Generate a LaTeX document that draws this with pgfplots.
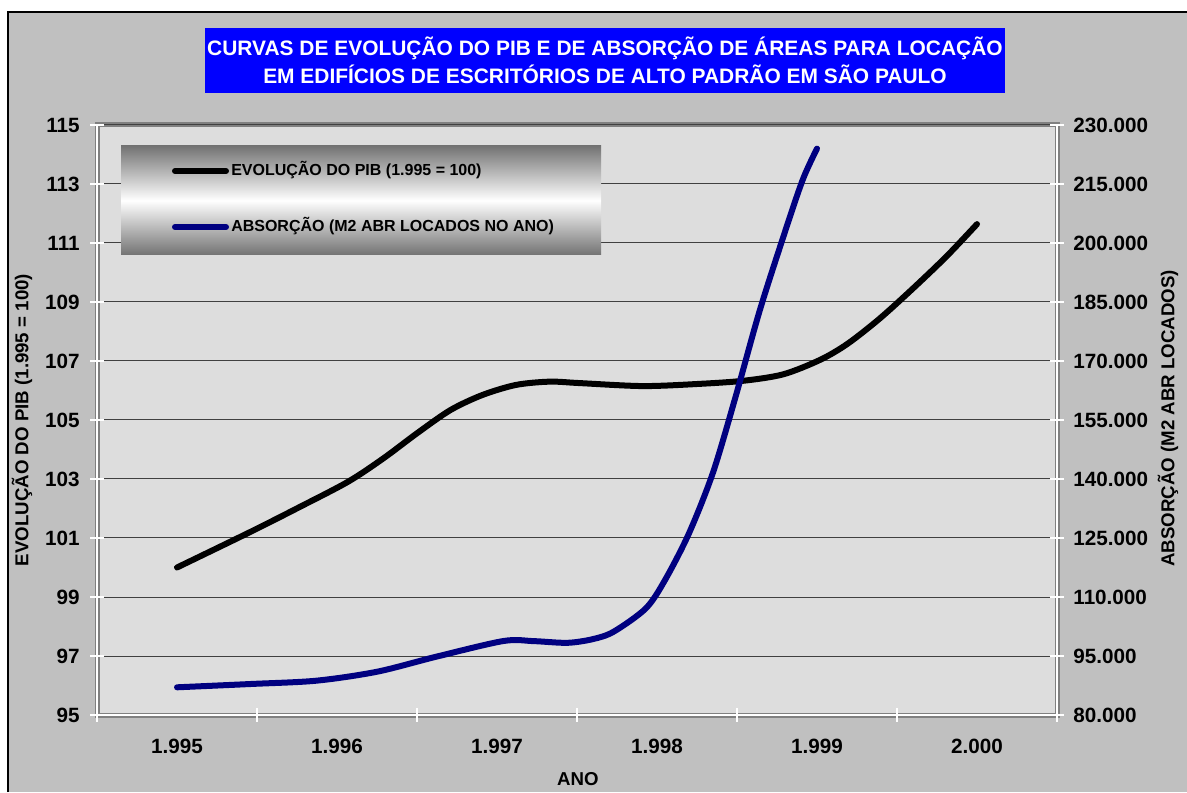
\documentclass[border=0pt]{standalone}
\usepackage{pgfplots}
\pgfplotsset{compat=1.18}
\usepackage{pgfplotstable}
\usepackage{fontspec}
\setmainfont{Liberation Sans}
\definecolor{chartbg}{HTML}{C0C0C0}
\definecolor{plotbg}{HTML}{DDDDDD}
\definecolor{navyline}{HTML}{000080}
\definecolor{titleblue}{HTML}{0000FF}

% x: 0 = 1.995, 1 = 1.996, ... 5 = 2.000
\pgfplotstableread{
x y
0.00 100.00
0.46 101.21
0.77 102.06
1.07 102.91
1.29 103.70
1.50 104.55
1.71 105.34
1.91 105.85
2.12 106.19
2.33 106.30
2.52 106.25
2.91 106.15
3.25 106.22
3.54 106.33
3.79 106.55
4.02 107.04
4.19 107.58
4.39 108.43
4.60 109.46
4.81 110.55
5.00 111.64
}\pibdata

\pgfplotstableread{
x y
0.00 87040
0.46 87880
0.87 88720
1.25 91000
1.62 94820
2.04 98810
2.23 98780
2.44 98350
2.60 99300
2.73 101200
2.93 107100
3.05 114300
3.20 126200
3.35 141650
3.49 160750
3.64 182560
3.79 201630
3.91 216000
4.00 224000
}\absdata

\begin{document}
\begin{tikzpicture}[x=0.75pt,y=0.75pt]
\useasboundingbox (0,0) rectangle (1187,792);
\fill[white] (0,0) rectangle (1187,792);
\fill[chartbg] (8,0) rectangle (1187,780);
\draw[black, line width=1.5pt] (8,0) -- (8,780) -- (1187,780);

\node[fill=titleblue, text=white, font=\bfseries\fontsize{15.7}{21}\selectfont, align=center,
      minimum width=600pt, minimum height=48.75pt, inner sep=0pt] at (605,731.5)
  {CURVAS DE EVOLUÇÃO DO PIB E DE ABSORÇÃO DE ÁREAS PARA LOCAÇÃO\\EM EDIFÍCIOS DE ESCRITÓRIOS DE ALTO PADRÃO EM SÃO PAULO};

\begin{axis}[
  at={(72.75pt,57.75pt)}, anchor=south west, scale only axis,
  width=720pt, height=442.5pt,
  xmin=-0.5, xmax=5.5, ymin=95, ymax=115,
  axis x line*=bottom, axis y line*=left,
  axis line style={white, line width=1.5pt},
  axis background/.style={fill=plotbg, draw=black!50, line width=3.75pt},
  xtick={-0.5,0.5,1.5,2.5,3.5,4.5,5.5},
  xticklabels={,,,,,,},
  extra x ticks={0,1,2,3,4,5},
  extra x tick labels={1.995,1.996,1.997,1.998,1.999,2.000},
  extra x tick style={major tick length=0pt, grid=none, xticklabel style={yshift=-14.25pt}},
  ytick={95,97,99,101,103,105,107,109,111,113,115},
  yticklabel style={xshift=-4.5pt},
  ymajorgrids, grid style={black!75, line width=0.75pt},
  tick align=center, major tick length=10pt,
  tick style={white, line width=1pt},
  every tick label/.append style={font=\bfseries\fontsize{15.5}{18}\selectfont, text=black},
  /pgf/number format/assume math mode=true,
  xlabel={ANO},
  ylabel={EVOLUÇÃO DO PIB (1.995 = 100)},
  every axis x label/.style={at={(axis description cs:0.501,-0.1085)}, anchor=center, font=\bfseries\fontsize{14}{16}\selectfont},
  every axis y label/.style={at={(axis description cs:-0.078,0.5)}, anchor=center, rotate=90, font=\bfseries\fontsize{14}{16}\selectfont},
]
\addplot[black, line width=4.5pt, smooth, line cap=round, line join=round] table[x=x,y=y] {\pibdata};
\end{axis}

\begin{axis}[
  at={(72.75pt,57.75pt)}, anchor=south west, scale only axis,
  width=720pt, height=442.5pt,
  xmin=-0.5, xmax=5.5, ymin=80000, ymax=230000,
  axis x line=none, axis y line*=right,
  axis line style={white, line width=1.5pt},
  ytick={80000,95000,110000,125000,140000,155000,170000,185000,200000,215000,230000},
  yticklabels={80.000,95.000,110.000,125.000,140.000,155.000,170.000,185.000,200.000,215.000,230.000},
  yticklabel style={xshift=3.75pt},
  scaled y ticks=false,
  tick align=center, major tick length=10pt,
  tick style={white, line width=1pt},
  every tick label/.append style={font=\bfseries\fontsize{15.5}{18}\selectfont, text=black},
  /pgf/number format/assume math mode=true,
  ylabel={ABSORÇÃO (M2 ABR LOCADOS)},
  every axis y label/.style={at={(axis description cs:1.1156,0.503)}, anchor=center, rotate=90, font=\bfseries\fontsize{14}{16}\selectfont},
]
\addplot[navyline, line width=4.5pt, smooth, line cap=round, line join=round] table[x=x,y=y] {\absdata};
\end{axis}

% legend
\shade[top color=black!55, bottom color=black!55, middle color=white] (121,537) rectangle (601,646);
\draw[black, line width=4.5pt, line cap=round] (175,621) -- (226,621);
\draw[navyline, line width=4.5pt, line cap=round] (175,565) -- (226,565);
\node[anchor=base west, inner sep=0pt, font=\bfseries\fontsize{12}{14}\selectfont] at (231,616) {EVOLUÇÃO DO PIB (1.995 = 100)};
\node[anchor=base west, inner sep=0pt, font=\bfseries\fontsize{12}{14}\selectfont] at (231,560) {ABSORÇÃO (M2 ABR LOCADOS NO ANO)};
\end{tikzpicture}
\end{document}
